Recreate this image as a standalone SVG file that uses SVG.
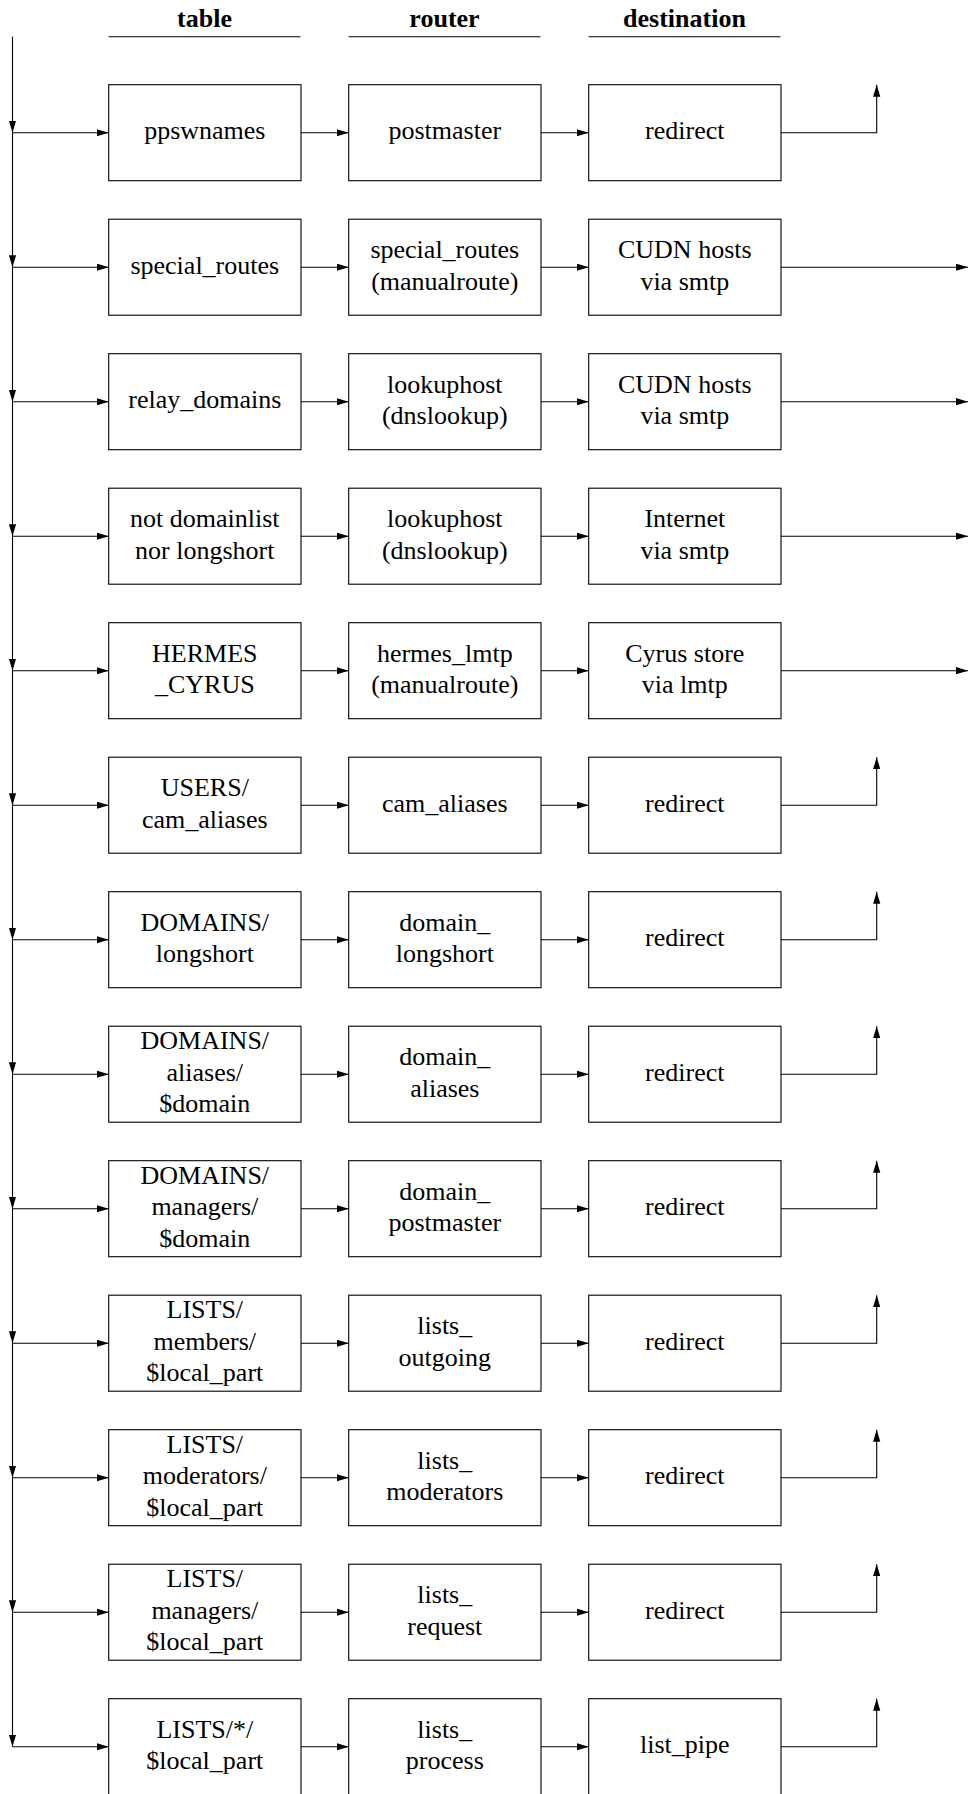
<svg xmlns="http://www.w3.org/2000/svg" width="968" height="1794" viewBox="0 0 968 1794">
<style>
.box{fill:#fff;stroke:#000;stroke-width:1.1}
.ln{fill:none;stroke:#000;stroke-width:1.1}
.t{font-family:"Liberation Serif","Times New Roman",serif;font-size:26px;text-anchor:middle;fill:#000}
.h{font-family:"Liberation Serif","Times New Roman",serif;font-size:26px;font-weight:bold;text-anchor:middle;fill:#000}
</style>
<defs>
<marker id="ah" markerUnits="userSpaceOnUse" markerWidth="13" markerHeight="8" refX="12" refY="3.6" orient="auto">
<path d="M0,0 L12,3.6 L0,7.2 Z" fill="#000"/>
</marker>
</defs>
<g id="headers">
<text class="h" x="204.5" y="26.5">table</text>
<text class="h" x="444.5" y="26.5">router</text>
<text class="h" x="684.5" y="26.5">destination</text>
<path class="ln" d="M108.7,36.7H300.5M348.7,36.7H540.5M588.7,36.7H780.5"/>
</g>
<g id="connectors">
<path class="ln" d="M12.5,36.7V132.7" marker-end="url(#ah)"/>
<path class="ln" d="M12.5,132.7V267.2" marker-end="url(#ah)"/>
<path class="ln" d="M12.5,267.2V401.7" marker-end="url(#ah)"/>
<path class="ln" d="M12.5,401.7V536.2" marker-end="url(#ah)"/>
<path class="ln" d="M12.5,536.2V670.7" marker-end="url(#ah)"/>
<path class="ln" d="M12.5,670.7V805.2" marker-end="url(#ah)"/>
<path class="ln" d="M12.5,805.2V939.7" marker-end="url(#ah)"/>
<path class="ln" d="M12.5,939.7V1074.2" marker-end="url(#ah)"/>
<path class="ln" d="M12.5,1074.2V1208.7" marker-end="url(#ah)"/>
<path class="ln" d="M12.5,1208.7V1343.2" marker-end="url(#ah)"/>
<path class="ln" d="M12.5,1343.2V1477.7" marker-end="url(#ah)"/>
<path class="ln" d="M12.5,1477.7V1612.2" marker-end="url(#ah)"/>
<path class="ln" d="M12.5,1612.2V1746.7" marker-end="url(#ah)"/>
<!-- row arrows -->
<g id="row-arrows">
<path class="ln" d="M12.5,132.7H108.7" marker-end="url(#ah)"/><path class="ln" d="M301,132.7H348.7" marker-end="url(#ah)"/><path class="ln" d="M541,132.7H588.7" marker-end="url(#ah)"/><path class="ln" d="M781,132.7H876.7V84.7" marker-end="url(#ah)"/>
<path class="ln" d="M12.5,267.2H108.7" marker-end="url(#ah)"/><path class="ln" d="M301,267.2H348.7" marker-end="url(#ah)"/><path class="ln" d="M541,267.2H588.7" marker-end="url(#ah)"/><path class="ln" d="M781,267.2H968" marker-end="url(#ah)"/>
<path class="ln" d="M12.5,401.7H108.7" marker-end="url(#ah)"/><path class="ln" d="M301,401.7H348.7" marker-end="url(#ah)"/><path class="ln" d="M541,401.7H588.7" marker-end="url(#ah)"/><path class="ln" d="M781,401.7H968" marker-end="url(#ah)"/>
<path class="ln" d="M12.5,536.2H108.7" marker-end="url(#ah)"/><path class="ln" d="M301,536.2H348.7" marker-end="url(#ah)"/><path class="ln" d="M541,536.2H588.7" marker-end="url(#ah)"/><path class="ln" d="M781,536.2H968" marker-end="url(#ah)"/>
<path class="ln" d="M12.5,670.7H108.7" marker-end="url(#ah)"/><path class="ln" d="M301,670.7H348.7" marker-end="url(#ah)"/><path class="ln" d="M541,670.7H588.7" marker-end="url(#ah)"/><path class="ln" d="M781,670.7H968" marker-end="url(#ah)"/>
<path class="ln" d="M12.5,805.2H108.7" marker-end="url(#ah)"/><path class="ln" d="M301,805.2H348.7" marker-end="url(#ah)"/><path class="ln" d="M541,805.2H588.7" marker-end="url(#ah)"/><path class="ln" d="M781,805.2H876.7V757.2" marker-end="url(#ah)"/>
<path class="ln" d="M12.5,939.7H108.7" marker-end="url(#ah)"/><path class="ln" d="M301,939.7H348.7" marker-end="url(#ah)"/><path class="ln" d="M541,939.7H588.7" marker-end="url(#ah)"/><path class="ln" d="M781,939.7H876.7V891.7" marker-end="url(#ah)"/>
<path class="ln" d="M12.5,1074.2H108.7" marker-end="url(#ah)"/><path class="ln" d="M301,1074.2H348.7" marker-end="url(#ah)"/><path class="ln" d="M541,1074.2H588.7" marker-end="url(#ah)"/><path class="ln" d="M781,1074.2H876.7V1026.2" marker-end="url(#ah)"/>
<path class="ln" d="M12.5,1208.7H108.7" marker-end="url(#ah)"/><path class="ln" d="M301,1208.7H348.7" marker-end="url(#ah)"/><path class="ln" d="M541,1208.7H588.7" marker-end="url(#ah)"/><path class="ln" d="M781,1208.7H876.7V1160.7" marker-end="url(#ah)"/>
<path class="ln" d="M12.5,1343.2H108.7" marker-end="url(#ah)"/><path class="ln" d="M301,1343.2H348.7" marker-end="url(#ah)"/><path class="ln" d="M541,1343.2H588.7" marker-end="url(#ah)"/><path class="ln" d="M781,1343.2H876.7V1295.2" marker-end="url(#ah)"/>
<path class="ln" d="M12.5,1477.7H108.7" marker-end="url(#ah)"/><path class="ln" d="M301,1477.7H348.7" marker-end="url(#ah)"/><path class="ln" d="M541,1477.7H588.7" marker-end="url(#ah)"/><path class="ln" d="M781,1477.7H876.7V1429.7" marker-end="url(#ah)"/>
<path class="ln" d="M12.5,1612.2H108.7" marker-end="url(#ah)"/><path class="ln" d="M301,1612.2H348.7" marker-end="url(#ah)"/><path class="ln" d="M541,1612.2H588.7" marker-end="url(#ah)"/><path class="ln" d="M781,1612.2H876.7V1564.2" marker-end="url(#ah)"/>
<path class="ln" d="M12.5,1746.7H108.7" marker-end="url(#ah)"/><path class="ln" d="M301,1746.7H348.7" marker-end="url(#ah)"/><path class="ln" d="M541,1746.7H588.7" marker-end="url(#ah)"/><path class="ln" d="M781,1746.7H876.7V1698.7" marker-end="url(#ah)"/>
</g>
</g>
<!-- row 1 -->
<g id="t1"><rect class="box" x="108.7" y="84.7" width="192.3" height="96"/><text class="t" x="204.8" y="139.3">ppswnames</text></g>
<g id="r1"><rect class="box" x="348.7" y="84.7" width="192.3" height="96"/><text class="t" x="444.8" y="139.3">postmaster</text></g>
<g id="d1"><rect class="box" x="588.7" y="84.7" width="192.3" height="96"/><text class="t" x="684.8" y="139.3">redirect</text></g>
<!-- row 2 -->
<g id="t2"><rect class="box" x="108.7" y="219.2" width="192.3" height="96"/><text class="t" x="204.8" y="273.8">special_routes</text></g>
<g id="r2"><rect class="box" x="348.7" y="219.2" width="192.3" height="96"/><text class="t" x="444.8" y="258.3">special_routes</text><text class="t" x="444.8" y="289.7">(manualroute)</text></g>
<g id="d2"><rect class="box" x="588.7" y="219.2" width="192.3" height="96"/><text class="t" x="684.8" y="258.3">CUDN hosts</text><text class="t" x="684.8" y="289.7">via smtp</text></g>
<!-- row 3 -->
<g id="t3"><rect class="box" x="108.7" y="353.7" width="192.3" height="96"/><text class="t" x="204.8" y="408.3">relay_domains</text></g>
<g id="r3"><rect class="box" x="348.7" y="353.7" width="192.3" height="96"/><text class="t" x="444.8" y="392.8">lookuphost</text><text class="t" x="444.8" y="424.2">(dnslookup)</text></g>
<g id="d3"><rect class="box" x="588.7" y="353.7" width="192.3" height="96"/><text class="t" x="684.8" y="392.8">CUDN hosts</text><text class="t" x="684.8" y="424.2">via smtp</text></g>
<!-- row 4 -->
<g id="t4"><rect class="box" x="108.7" y="488.2" width="192.3" height="96"/><text class="t" x="204.8" y="527.3">not domainlist</text><text class="t" x="204.8" y="558.7">nor longshort</text></g>
<g id="r4"><rect class="box" x="348.7" y="488.2" width="192.3" height="96"/><text class="t" x="444.8" y="527.3">lookuphost</text><text class="t" x="444.8" y="558.7">(dnslookup)</text></g>
<g id="d4"><rect class="box" x="588.7" y="488.2" width="192.3" height="96"/><text class="t" x="684.8" y="527.3">Internet</text><text class="t" x="684.8" y="558.7">via smtp</text></g>
<!-- row 5 -->
<g id="t5"><rect class="box" x="108.7" y="622.7" width="192.3" height="96"/><text class="t" x="204.8" y="661.8">HERMES</text><text class="t" x="204.8" y="693.2">_CYRUS</text></g>
<g id="r5"><rect class="box" x="348.7" y="622.7" width="192.3" height="96"/><text class="t" x="444.8" y="661.8">hermes_lmtp</text><text class="t" x="444.8" y="693.2">(manualroute)</text></g>
<g id="d5"><rect class="box" x="588.7" y="622.7" width="192.3" height="96"/><text class="t" x="684.8" y="661.8">Cyrus store</text><text class="t" x="684.8" y="693.2">via lmtp</text></g>
<!-- row 6 -->
<g id="t6"><rect class="box" x="108.7" y="757.2" width="192.3" height="96"/><text class="t" x="204.8" y="796.3">USERS/</text><text class="t" x="204.8" y="827.7">cam_aliases</text></g>
<g id="r6"><rect class="box" x="348.7" y="757.2" width="192.3" height="96"/><text class="t" x="444.8" y="811.8">cam_aliases</text></g>
<g id="d6"><rect class="box" x="588.7" y="757.2" width="192.3" height="96"/><text class="t" x="684.8" y="811.8">redirect</text></g>
<!-- row 7 -->
<g id="t7"><rect class="box" x="108.7" y="891.7" width="192.3" height="96"/><text class="t" x="204.8" y="930.8">DOMAINS/</text><text class="t" x="204.8" y="962.2">longshort</text></g>
<g id="r7"><rect class="box" x="348.7" y="891.7" width="192.3" height="96"/><text class="t" x="444.8" y="930.8">domain_</text><text class="t" x="444.8" y="962.2">longshort</text></g>
<g id="d7"><rect class="box" x="588.7" y="891.7" width="192.3" height="96"/><text class="t" x="684.8" y="946.3">redirect</text></g>
<!-- row 8 -->
<g id="t8"><rect class="box" x="108.7" y="1026.2" width="192.3" height="96"/><text class="t" x="204.8" y="1049.4">DOMAINS/</text><text class="t" x="204.8" y="1080.8">aliases/</text><text class="t" x="204.8" y="1112.2">$domain</text></g>
<g id="r8"><rect class="box" x="348.7" y="1026.2" width="192.3" height="96"/><text class="t" x="444.8" y="1065.3">domain_</text><text class="t" x="444.8" y="1096.7">aliases</text></g>
<g id="d8"><rect class="box" x="588.7" y="1026.2" width="192.3" height="96"/><text class="t" x="684.8" y="1080.8">redirect</text></g>
<!-- row 9 -->
<g id="t9"><rect class="box" x="108.7" y="1160.7" width="192.3" height="96"/><text class="t" x="204.8" y="1183.9">DOMAINS/</text><text class="t" x="204.8" y="1215.3">managers/</text><text class="t" x="204.8" y="1246.7">$domain</text></g>
<g id="r9"><rect class="box" x="348.7" y="1160.7" width="192.3" height="96"/><text class="t" x="444.8" y="1199.8">domain_</text><text class="t" x="444.8" y="1231.2">postmaster</text></g>
<g id="d9"><rect class="box" x="588.7" y="1160.7" width="192.3" height="96"/><text class="t" x="684.8" y="1215.3">redirect</text></g>
<!-- row 10 -->
<g id="t10"><rect class="box" x="108.7" y="1295.2" width="192.3" height="96"/><text class="t" x="204.8" y="1318.4">LISTS/</text><text class="t" x="204.8" y="1349.8">members/</text><text class="t" x="204.8" y="1381.2">$local_part</text></g>
<g id="r10"><rect class="box" x="348.7" y="1295.2" width="192.3" height="96"/><text class="t" x="444.8" y="1334.3">lists_</text><text class="t" x="444.8" y="1365.7">outgoing</text></g>
<g id="d10"><rect class="box" x="588.7" y="1295.2" width="192.3" height="96"/><text class="t" x="684.8" y="1349.8">redirect</text></g>
<!-- row 11 -->
<g id="t11"><rect class="box" x="108.7" y="1429.7" width="192.3" height="96"/><text class="t" x="204.8" y="1452.9">LISTS/</text><text class="t" x="204.8" y="1484.3">moderators/</text><text class="t" x="204.8" y="1515.7">$local_part</text></g>
<g id="r11"><rect class="box" x="348.7" y="1429.7" width="192.3" height="96"/><text class="t" x="444.8" y="1468.8">lists_</text><text class="t" x="444.8" y="1500.2">moderators</text></g>
<g id="d11"><rect class="box" x="588.7" y="1429.7" width="192.3" height="96"/><text class="t" x="684.8" y="1484.3">redirect</text></g>
<!-- row 12 -->
<g id="t12"><rect class="box" x="108.7" y="1564.2" width="192.3" height="96"/><text class="t" x="204.8" y="1587.4">LISTS/</text><text class="t" x="204.8" y="1618.8">managers/</text><text class="t" x="204.8" y="1650.2">$local_part</text></g>
<g id="r12"><rect class="box" x="348.7" y="1564.2" width="192.3" height="96"/><text class="t" x="444.8" y="1603.3">lists_</text><text class="t" x="444.8" y="1634.7">request</text></g>
<g id="d12"><rect class="box" x="588.7" y="1564.2" width="192.3" height="96"/><text class="t" x="684.8" y="1618.8">redirect</text></g>
<!-- row 13 -->
<g id="t13"><rect class="box" x="108.7" y="1698.7" width="192.3" height="96"/><text class="t" x="204.8" y="1737.8">LISTS/*/</text><text class="t" x="204.8" y="1769.2">$local_part</text></g>
<g id="r13"><rect class="box" x="348.7" y="1698.7" width="192.3" height="96"/><text class="t" x="444.8" y="1737.8">lists_</text><text class="t" x="444.8" y="1769.2">process</text></g>
<g id="d13"><rect class="box" x="588.7" y="1698.7" width="192.3" height="96"/><text class="t" x="684.8" y="1753.3">list_pipe</text></g>
</svg>
